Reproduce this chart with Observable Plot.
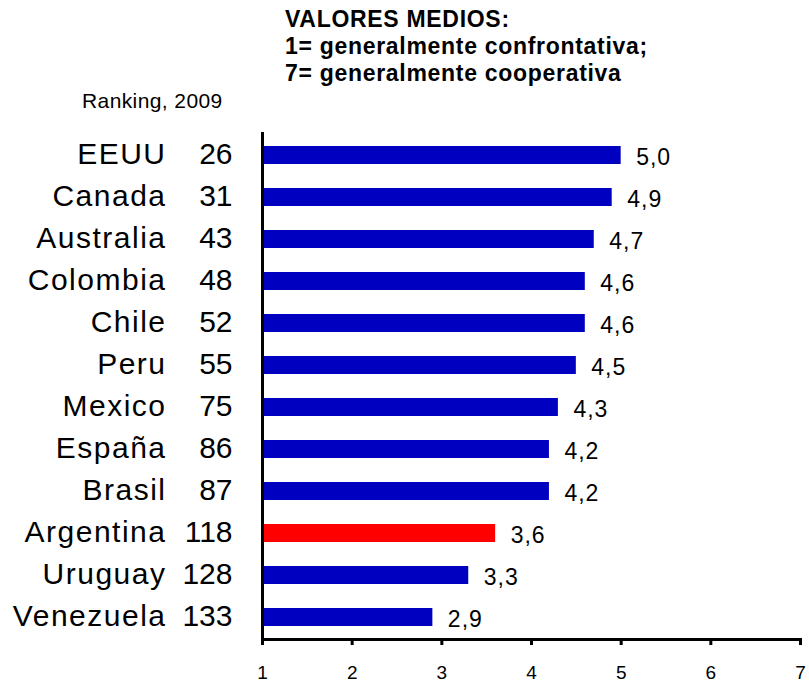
<!DOCTYPE html>
<html><head><meta charset="utf-8">
<script src="https://cdn.jsdelivr.net/npm/d3@7"></script>
<script src="https://cdn.jsdelivr.net/npm/@observablehq/plot@0.6"></script>
<style>
body{margin:0;background:#fff;font-family:Arial,"Liberation Sans",sans-serif}
#wrap{position:relative;width:809px;height:685px}
#title{position:absolute;left:285px;top:6px;font-size:23px;font-weight:bold;line-height:27px;letter-spacing:0.7px;color:#000;white-space:nowrap}
#sub{position:absolute;left:82px;top:91px;font-size:21px;line-height:20px;letter-spacing:0.4px;color:#000;white-space:nowrap}
#chart{position:absolute;left:0;top:0}
</style></head>
<body><div id="wrap">
<div id="chart"></div>
<div id="title">VALORES MEDIOS:<br>1= generalmente confrontativa;<br>7= generalmente cooperativa</div>
<div id="sub">Ranking, 2009</div>
</div>
<script>
const countries = ["EEUU","Canada","Australia","Colombia","Chile","Peru","Mexico","España","Brasil","Argentina","Uruguay","Venezuela"];
const ranks = [26,31,43,48,52,55,75,86,87,118,128,133];
const values = [5.0,4.9,4.7,4.6,4.6,4.5,4.3,4.2,4.2,3.6,3.3,2.9];
const highlight = "Argentina";
const xTicks = [1,2,3,4,5,6,7];

const data = countries.map((c,i)=>({country:c, rank:ranks[i], value:values[i]}));

const chart = Plot.plot({
  width:809, height:685,
  marginTop:132, marginBottom:46, marginLeft:262, marginRight:9,
  style:{fontFamily:"Arial, 'Liberation Sans', sans-serif", background:"white", color:"black"},
  x:{domain:[1,7], axis:null},
  y:{domain:countries, paddingInner:0.575, paddingOuter:0.284, axis:null},
  color:{type:"identity"},
  marks:[
    Plot.barX(data,{x1:1, x2:"value", y:"country", fill:d=>d.country===highlight?"#ff0000":"#0000c0"}),
    Plot.text(data,{x:1, y:"country", text:"country", textAnchor:"end", dx:-96, dy:-1, fontSize:30, fill:"black"}),
    Plot.text(data,{x:1, y:"country", text:d=>String(d.rank), textAnchor:"end", dx:-30, dy:-1, fontSize:30, fill:"black"}),
    Plot.text(data,{x:"value", y:"country", text:d=>d.value.toFixed(1).replace(".",","), textAnchor:"start", dx:15, dy:2, fontSize:23, fill:"black"}),
    Plot.ruleX([1],{stroke:"black", strokeWidth:3}),
    Plot.frame({anchor:"bottom", stroke:"black", strokeWidth:3}),
    Plot.axisX({ticks:xTicks, tickSize:6, tickPadding:20, strokeWidth:3, fontSize:19, label:null, tickFormat:d=>String(d)})
  ]
});
const textGroups = chart.querySelectorAll('g[aria-label="text"]');
if (textGroups[0]) textGroups[0].setAttribute("letter-spacing", "1.5");
if (textGroups[2]) textGroups[2].setAttribute("letter-spacing", "1");
document.getElementById("chart").appendChild(chart);
</script>
</body></html>
